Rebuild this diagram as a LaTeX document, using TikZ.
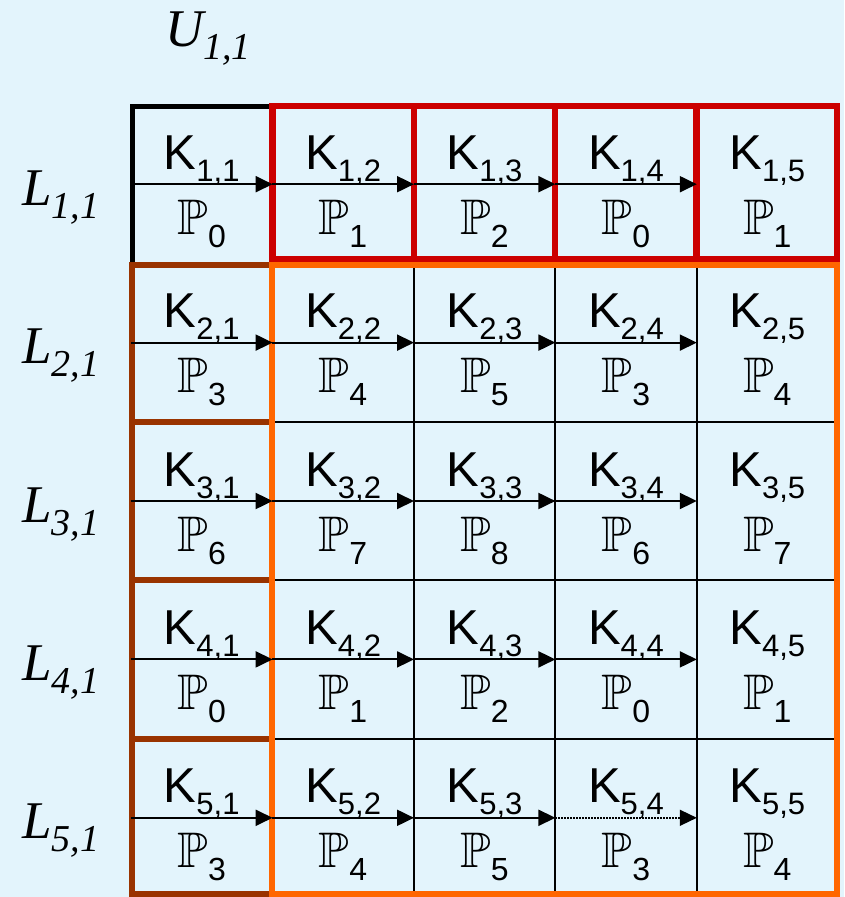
\documentclass[tikz,border=0pt]{standalone}
\usepackage{fontspec}
\setmainfont{Liberation Serif}
\newfontfamily\arialf{Liberation Sans}
\usetikzlibrary{arrows.meta,calc}
\definecolor{bgc}{HTML}{E3F4FC}
\definecolor{redc}{HTML}{CC0000}
\definecolor{brownc}{HTML}{993300}
\definecolor{orangec}{HTML}{FF6600}
\newcommand{\klab}[2]{{\arialf\fontsize{49}{49}\selectfont K}\raisebox{-12pt}{\arialf\fontsize{31}{31}\selectfont #1,#2}}
\newcommand{\plab}[1]{{\fontsize{50}{50}\usefont{U}{msb}{m}{n}P}\raisebox{-13pt}{\arialf\fontsize{32}{32}\selectfont #1}}
\newcommand{\slab}[3]{{\itshape\fontsize{53}{53}\selectfont #1}\raisebox{-13pt}{\itshape\fontsize{38}{38}\selectfont #2,#3}}
\begin{document}
\begin{tikzpicture}[x=1pt,y=-1pt,
  cell/.style={minimum width=141.4pt,minimum height=158.4pt,inner sep=0pt,draw=none},
  txt/.style={inner sep=0pt,anchor=base},
  arr/.style={line width=2pt,-{Triangle[length=17pt,width=16pt]}},
  gridline/.style={line width=2pt,black},
  side/.style={inner sep=0pt,anchor=base west}]
\fill[bgc] (0,0) rectangle (844,897);
\useasboundingbox (0,0) rectangle (844,897);
% cells
\foreach \r in {1,...,5}{
  \foreach \c in {1,...,5}{
    \pgfmathsetmacro{\cx}{201.7+141.4*(\c-1)}
    \pgfmathsetmacro{\cy}{184.2+158.4*(\r-1)}
    \pgfmathtruncatemacro{\pn}{3*mod(\r-1,3)+mod(\c-1,3)}
    \node[cell] (c-\r-\c) at (\cx,\cy) {};
    \node[txt] (k-\r-\c) at ($(c-\r-\c.center)+(0,-15)$) {\klab{\r}{\c}};
    \node[txt] (p-\r-\c) at ($(c-\r-\c.center)+(0,50)$) {\plab{\pn}};
  }
}
% thin grid
\foreach \x in {413.8,555.2,696.6}{\draw[gridline] (\x,265) -- (\x,897);}
\foreach \y in {421.8,580.2,738.6}{\draw[gridline] (272.4,\y) -- (838,\y);}
% thick frames
\draw[line width=5pt,black] (132,262) -- (132,106) -- (272.4,106);
\draw[line width=6.5pt,redc] (272.4,106) rectangle (837,259);
\foreach \x in {413.8,555.2,696.6}{\draw[line width=6.5pt,redc] (\x,106) -- (\x,259);}
\draw[line width=6pt,brownc] (132,265) rectangle (272.4,894);
\foreach \y in {421.8,580.2,738.6}{\draw[line width=6pt,brownc] (132,\y) -- (272.4,\y);}
\draw[line width=6pt,orangec] (272.4,265) rectangle (837,894);
% arrows
\foreach \r in {1,...,5}{
  \foreach \c in {1,2,3}{
    \draw[arr] (c-\r-\c.west) -- (c-\r-\c.east);
  }
}
\foreach \r in {1,2,3,4}{\draw[arr] (c-\r-4.west) -- (c-\r-4.east);}
\draw[arr,line width=1.5pt,dash pattern=on 1.5pt off 1.5pt] (c-5-4.west) -- (c-5-4.east);
% side labels
\foreach \r in {1,...,5}{
  \node[side] (l-\r) at ($(c-\r-1.center)+(-179.7,21)$) {\slab{L}{\r}{1}};
}
\node[side] (u) at (165,46) {\slab{U}{1}{1}};
\end{tikzpicture}
\end{document}
